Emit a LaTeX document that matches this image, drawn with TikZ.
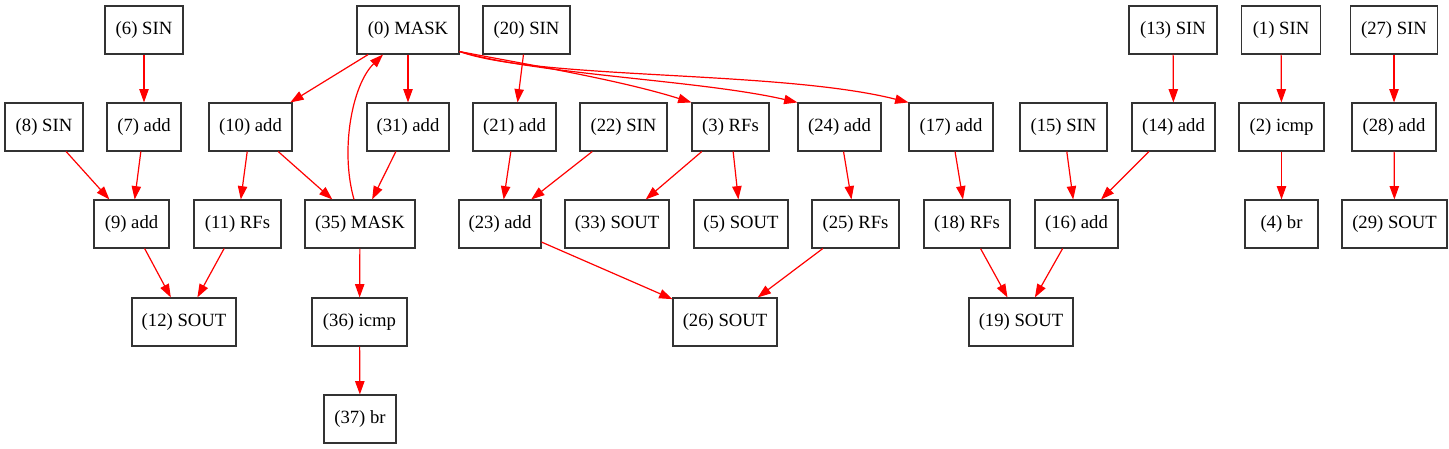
\documentclass[tikz,border=0pt]{standalone}
\usepackage{fontspec}
\setmainfont{Liberation Serif}
\usetikzlibrary{arrows.meta,calc}
\begin{document}
\begin{tikzpicture}[x=0.75pt,y=-0.75pt,
  box/.style={draw=black!80,line width=0.8pt,minimum height=36pt,inner sep=0pt,
    font=\fontsize{14pt}{16pt}\selectfont},
  bw/.style={minimum width=#1*0.75pt},
  edge/.style={draw=red,line width=0.9pt,-{Triangle[length=10pt,width=7pt]}}]
\useasboundingbox (0,0) rectangle (1449,449);
% row 1
\node[box,bw=78]  (n6)  at (144,30)   {(6) SIN};
\node[box,bw=102] (n0)  at (408,30)   {(0) MASK};
\node[box,bw=87]  (n20) at (526.5,30) {(20) SIN};
\node[box,bw=88]  (n13) at (1173,30)  {(13) SIN};
\node[box,bw=79]  (n1)  at (1281,30)  {(1) SIN};
\node[box,bw=87]  (n27) at (1394,30)  {(27) SIN};
% row 2
\node[box,bw=78]  (n8)  at (44,127)    {(8) SIN};
\node[box,bw=74]  (n7)  at (144,127)   {(7) add};
\node[box,bw=83]  (n10) at (250.5,127) {(10) add};
\node[box,bw=82]  (n31) at (408,127)   {(31) add};
\node[box,bw=83]  (n21) at (514.5,127) {(21) add};
\node[box,bw=87]  (n22) at (623.5,127) {(22) SIN};
\node[box,bw=77]  (n3)  at (730.5,127) {(3) RFs};
\node[box,bw=83]  (n24) at (839.5,127) {(24) add};
\node[box,bw=84]  (n17) at (951,127)   {(17) add};
\node[box,bw=87]  (n15) at (1063.5,127){(15) SIN};
\node[box,bw=83]  (n14) at (1173.5,127){(14) add};
\node[box,bw=85]  (n2)  at (1281.5,127){(2) icmp};
\node[box,bw=84]  (n28) at (1394,127)  {(28) add};
% row 3
\node[box,bw=75]  (n9)  at (131.5,224) {(9) add};
\node[box,bw=87]  (n11) at (237.5,224) {(11) RFs};
\node[box,bw=110] (n35) at (360,224)   {(35) MASK};
\node[box,bw=82]  (n23) at (500,224)   {(23) add};
\node[box,bw=104] (n33) at (617,224)   {(33) SOUT};
\node[box,bw=94]  (n5)  at (741,224)   {(5) SOUT};
\node[box,bw=87]  (n25) at (855.5,224) {(25) RFs};
\node[box,bw=86]  (n18) at (967,224)   {(18) RFs};
\node[box,bw=83]  (n16) at (1076.5,224){(16) add};
\node[box,bw=73]  (n4)  at (1281.5,224){(4) br};
\node[box,bw=105] (n29) at (1394.5,224){(29) SOUT};
% row 4
\node[box,bw=104] (n12) at (184,322)   {(12) SOUT};
\node[box,bw=95]  (n36) at (359.5,322) {(36) icmp};
\node[box,bw=104] (n26) at (725,322)   {(26) SOUT};
\node[box,bw=104] (n19) at (1021,322)  {(19) SOUT};
% row 5
\node[box,bw=72]  (n37) at (360,419)   {(37) br};
% edges
\draw[edge] (n6) -- (n7);
\draw[edge] (n8) -- (n9);
\draw[edge] (n7) -- (n9);
\draw[edge] (n0) -- (n10);
\draw[edge] (n0) -- (n31);
\draw[edge] (n10) -- (n11);
\draw[edge] (n10) -- (n35);
\draw[edge] (n31) -- (n35);
\draw[edge] (n9) -- (n12);
\draw[edge] (n11) -- (n12);
\draw[edge] (n35) -- (n36);
\draw[edge] (n36) -- (n37);
\draw[edge] ($(n35.north)+(-6,0)$) .. controls (340,150) and (352,85) .. ($(n0.south)+(-25,0)$);
\draw[edge] (n20) -- (n21);
\draw[edge] (n21) -- (n23);
\draw[edge] (n22) -- (n23);
\draw[edge] ($(n0.south east)+(0,-3)$) .. controls (530,65) and (620,80) .. (n3.north west);
\draw[edge] ($(n0.south east)+(0,-3)$) .. controls (540,75) and (700,80) .. (n24.north west);
\draw[edge] ($(n0.south east)+(0,-3)$) .. controls (540,80) and (780,70) .. (n17.north west);
\draw[edge] (n3) -- (n33);
\draw[edge] (n3) -- (n5);
\draw[edge] (n24) -- (n25);
\draw[edge] (n23) -- (n26);
\draw[edge] (n25) -- (n26);
\draw[edge] (n17) -- (n18);
\draw[edge] (n15) -- (n16);
\draw[edge] (n14) -- (n16);
\draw[edge] (n18) -- (n19);
\draw[edge] (n16) -- (n19);
\draw[edge] (n13) -- (n14);
\draw[edge] (n1) -- (n2);
\draw[edge] (n2) -- (n4);
\draw[edge] (n27) -- (n28);
\draw[edge] (n28) -- (n29);
\end{tikzpicture}
\end{document}
